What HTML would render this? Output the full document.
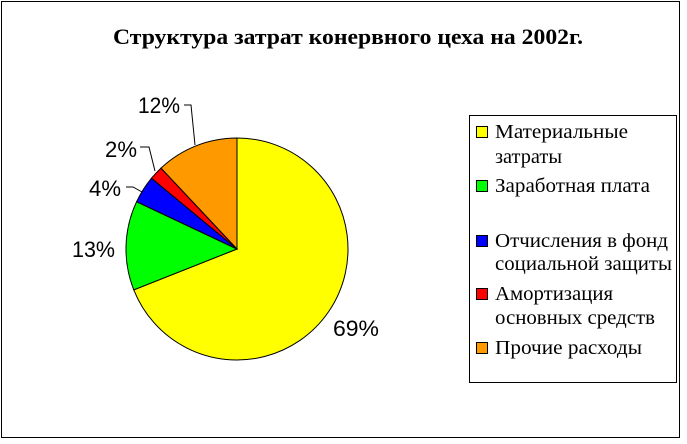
<!DOCTYPE html>
<html><head><meta charset="utf-8"><style>
body{margin:0;background:#fff;}
svg{display:block;}
</style></head><body>
<svg width="687" height="444" xmlns="http://www.w3.org/2000/svg">
<rect x="0" y="0" width="687" height="444" fill="#fff"/>
<rect x="1.5" y="1.5" width="678" height="436" fill="none" stroke="#000" stroke-width="1"/>
<text x="113" y="44" textLength="470" lengthAdjust="spacingAndGlyphs" font-family="Liberation Serif, serif" font-weight="bold" font-size="22">Структура затрат конервного цеха на 2002г.</text>
<g stroke="#000" stroke-width="1">
<path d="M237,249 L237,138 A111,111 0 1 1 133.8,289.9 Z" fill="#ffff00"/>
<path d="M237,249 L133.8,289.9 A111,111 0 0 1 136.6,201.7 Z" fill="#00ff00"/>
<path d="M237,249 L136.6,201.7 A111,111 0 0 1 151.5,178.2 Z" fill="#0000ff"/>
<path d="M237,249 L151.5,178.2 A111,111 0 0 1 161.0,168.1 Z" fill="#ff0000"/>
<path d="M237,249 L161.0,168.1 A111,111 0 0 1 237,138 Z" fill="#ff9900"/>
</g>
<g stroke="#000" stroke-width="1" fill="none">
<polyline points="184,105 191,105 195,145"/>
<polyline points="140,147 149,147 155,171"/>
<polyline points="126,187 133,187 142,192"/>
</g>
<g font-family="Liberation Sans, sans-serif" font-size="22">
<text x="138" y="113" textLength="42" lengthAdjust="spacingAndGlyphs">12%</text>
<text x="105" y="157" textLength="32" lengthAdjust="spacingAndGlyphs">2%</text>
<text x="89" y="196" textLength="32" lengthAdjust="spacingAndGlyphs">4%</text>
<text x="72" y="257" textLength="43" lengthAdjust="spacingAndGlyphs">13%</text>
<text x="333" y="336" textLength="46" lengthAdjust="spacingAndGlyphs">69%</text>
</g>
<rect x="469.5" y="115.5" width="207" height="267" fill="none" stroke="#000"/>
<g stroke="#000" stroke-width="1">
<rect x="476.5" y="126.5" width="11" height="11" fill="#ffff00"/>
<rect x="476.5" y="180.5" width="11" height="11" fill="#00ff00"/>
<rect x="476.5" y="235.5" width="11" height="11" fill="#0000ff"/>
<rect x="476.5" y="288.5" width="11" height="11" fill="#ff0000"/>
<rect x="476.5" y="342.5" width="11" height="11" fill="#ff9900"/>
</g>
<g font-family="Liberation Serif, serif" font-size="20">
<text x="495" y="138" textLength="133" lengthAdjust="spacingAndGlyphs">Материальные</text>
<text x="495" y="163" textLength="67" lengthAdjust="spacingAndGlyphs">затраты</text>
<text x="495" y="192" textLength="155" lengthAdjust="spacingAndGlyphs">Заработная плата</text>
<text x="495" y="247" textLength="173" lengthAdjust="spacingAndGlyphs">Отчисления в фонд</text>
<text x="495" y="270" textLength="177" lengthAdjust="spacingAndGlyphs">социальной защиты</text>
<text x="495" y="300" textLength="118" lengthAdjust="spacingAndGlyphs">Амортизация</text>
<text x="495" y="324" textLength="160" lengthAdjust="spacingAndGlyphs">основных средств</text>
<text x="495" y="354" textLength="147" lengthAdjust="spacingAndGlyphs">Прочие расходы</text>
</g>
</svg>
</body></html>
